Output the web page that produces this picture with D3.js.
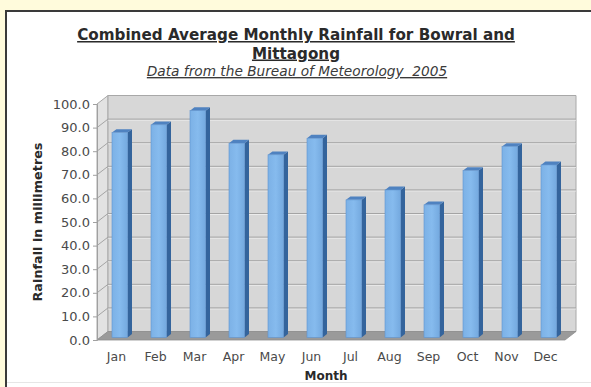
<!DOCTYPE html>
<html>
<head>
<meta charset="utf-8">
<script src="https://cdn.jsdelivr.net/npm/d3@7"></script>
<style>
  html, body { margin: 0; padding: 0; background: #fffbdc; }
  svg { display: block; }
  text { font-family: "DejaVu Sans", Verdana, sans-serif; }
</style>
</head>
<body>
<svg id="chart" width="591" height="387"></svg>
<script>
const months = ["Jan","Feb","Mar","Apr","May","Jun","Jul","Aug","Sep","Oct","Nov","Dec"];
const rainfall = [86.8, 90.1, 96.1, 82.3, 77.4, 84.4, 58.3, 62.5, 56.2, 70.7, 80.9, 73.1];
const yTicks = [0, 10, 20, 30, 40, 50, 60, 70, 80, 90, 100];
const titleLines = ["Combined Average Monthly Rainfall for Bowral and", "Mittagong"];
const subtitle = "Data from the Bureau of Meteorology  2005";
const yTitle = "Rainfall in millimetres";
const xTitle = "Month";

const svg = d3.select("#chart");

// page panel
svg.append("rect").attr("x", 0).attr("y", 0).attr("width", 591).attr("height", 387).attr("fill", "#fffbdc");
svg.append("rect").attr("x", 6).attr("y", 11).attr("width", 600).attr("height", 400)
  .attr("fill", "#ffffff").attr("stroke", "#3a3a3a").attr("stroke-width", 2);
svg.append("line").attr("x1", 7).attr("x2", 591).attr("y1", 382.5).attr("y2", 382.5)
  .attr("stroke", "#e6e6e6").attr("stroke-width", 1);

// scales
const x = d3.scaleBand().domain(months).range([97, 565]).paddingInner(0.6).paddingOuter(0.3);
const y = d3.scaleLinear().domain([0, 100]).range([340, 104]);
const D = { dx: 11, dy: -8.5 };
const x0 = 97, x1 = 565;

const defs = svg.append("defs");
const g1 = defs.append("linearGradient").attr("id", "front").attr("x1", 0).attr("x2", 1).attr("y1", 0).attr("y2", 0);
g1.append("stop").attr("offset", "0%").attr("stop-color", "#7cb1e6");
g1.append("stop").attr("offset", "50%").attr("stop-color", "#86bbee");
g1.append("stop").attr("offset", "100%").attr("stop-color", "#74a9df");

const pts = a => a.map(p => p.join(",")).join(" ");

// side wall
svg.append("polygon")
  .attr("points", pts([[x0, y(100)], [x0 + D.dx, y(100) + D.dy], [x0 + D.dx, y(0) + D.dy], [x0, y(0)]]))
  .attr("fill", "#e2e2e2").attr("stroke", "#a8a8a8").attr("stroke-width", 1);
// back wall
svg.append("polygon")
  .attr("points", pts([[x0 + D.dx, y(100) + D.dy], [x1 + D.dx, y(100) + D.dy], [x1 + D.dx, y(0) + D.dy], [x0 + D.dx, y(0) + D.dy]]))
  .attr("fill", "#d7d7d7").attr("stroke", "#a8a8a8").attr("stroke-width", 1);
// floor
svg.append("polygon")
  .attr("points", pts([[x0, y(0)], [x0 + D.dx, y(0) + D.dy], [x1 + D.dx, y(0) + D.dy], [x1, y(0)]]))
  .attr("fill", "#9a9a9a").attr("stroke", "#8e8e8e").attr("stroke-width", 0.8);

// gridlines
const grid = yTicks.filter(v => v > 0 && v < 100);
svg.append("g").selectAll("line.bg").data(grid).join("line")
  .attr("x1", x0 + D.dx).attr("x2", x1 + D.dx)
  .attr("y1", d => y(d) + D.dy + 1).attr("y2", d => y(d) + D.dy + 1)
  .attr("stroke", "#ececec").attr("stroke-width", 1);
svg.append("g").selectAll("line").data(grid).join("line")
  .attr("x1", x0 + D.dx).attr("x2", x1 + D.dx)
  .attr("y1", d => y(d) + D.dy).attr("y2", d => y(d) + D.dy)
  .attr("stroke", "#a4a4a4").attr("stroke-width", 1);
svg.append("g").selectAll("line").data(grid).join("line")
  .attr("x1", x0).attr("x2", x0 + D.dx)
  .attr("y1", d => y(d)).attr("y2", d => y(d) + D.dy)
  .attr("stroke", "#a4a4a4").attr("stroke-width", 1);

// bars (mid-depth: from 0.3 to 0.7 of the depth)
const fA = 0.3, fB = 0.7;
const bw = x.bandwidth();
const bars = svg.append("g").selectAll("g").data(months.map((m, i) => ({ m, v: rainfall[i] }))).join("g");
bars.each(function(d) {
  const g = d3.select(this);
  const xl = x(d.m) + fA * D.dx, xr = xl + bw;
  const top = y(d.v) + fA * D.dy, bot = y(0) + fA * D.dy;
  const ddx = (fB - fA) * D.dx, ddy = (fB - fA) * D.dy;
  g.append("polygon").attr("points", pts([[xr, top], [xr + ddx, top + ddy], [xr + ddx, bot + ddy], [xr, bot]]))
    .attr("fill", "#34649c");
  g.append("polygon").attr("points", pts([[xl, top], [xl + ddx, top + ddy], [xr + ddx, top + ddy], [xr, top]]))
    .attr("fill", "#4f82c0");
  g.append("rect").attr("x", xl).attr("y", top).attr("width", bw).attr("height", bot - top)
    .attr("fill", "url(#front)").attr("stroke", "#5f93cf").attr("stroke-width", 0.6);
});

// y axis
const yAxis = svg.append("g").attr("transform", `translate(${x0},0)`)
  .call(d3.axisLeft(y).tickValues(yTicks).tickFormat(d3.format(".1f")).tickSize(4).tickPadding(3));
yAxis.select(".domain").attr("stroke", "#a0a0a0");
yAxis.selectAll(".tick line").attr("stroke", "#a0a0a0");
yAxis.selectAll("text").attr("font-size", "13px").attr("fill", "#4a4a4a").attr("font-family", "DejaVu Sans");

// x axis
const xAxis = svg.append("g").attr("transform", `translate(0,${y(0)})`)
  .call(d3.axisBottom(x).tickSize(0).tickPadding(12));
xAxis.select(".domain").remove();
xAxis.selectAll("text").attr("font-size", "12.5px").attr("fill", "#4a4a4a").attr("font-family", "DejaVu Sans");

// titles
svg.append("g").selectAll("text").data(titleLines).join("text")
  .attr("x", 296).attr("y", (d, i) => 40 + i * 18.5)
  .attr("text-anchor", "middle").attr("font-weight", "bold").attr("font-size", "15.2px")
  .attr("fill", "#2a2a2a").style("text-decoration", "underline")
  .text(d => d);
svg.append("text").attr("x", 297).attr("y", 76).attr("text-anchor", "middle")
  .attr("font-style", "italic").attr("font-size", "13.7px").attr("fill", "#3a3a3a")
  .style("text-decoration", "underline").style("white-space", "pre")
  .text(subtitle);
svg.append("text").attr("transform", "translate(42,222) rotate(-90)")
  .attr("text-anchor", "middle").attr("font-weight", "bold").attr("font-size", "12.8px")
  .attr("fill", "#2a2a2a").text(yTitle);
svg.append("text").attr("x", 326).attr("y", 380).attr("text-anchor", "middle")
  .attr("font-weight", "bold").attr("font-size", "12px").attr("fill", "#2a2a2a").text(xTitle);
</script>
</body>
</html>
